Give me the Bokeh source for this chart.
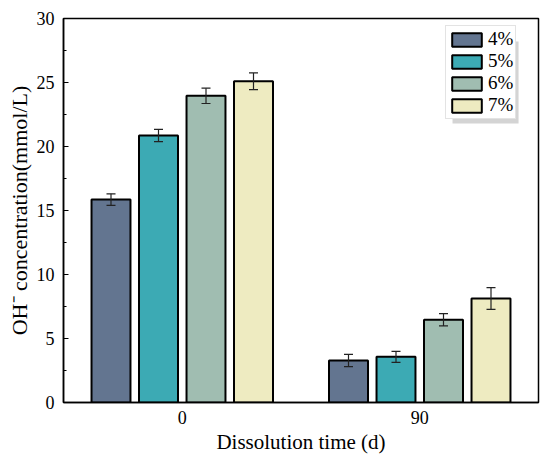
from bokeh.plotting import figure
from bokeh.models import (FactorRange, ColumnDataSource, Whisker, TeeHead, Legend,
                          LegendItem, SingleIntervalTicker, BoxAnnotation, Range1d)
from bokeh.transform import dodge
from bokeh.embed import file_html
from bokeh.resources import INLINE

times = ["0", "90"]
series = ["4%", "5%", "6%", "7%"]
colors = ["#637590", "#3caab4", "#a0bdb1", "#eeebc1"]
vals_4 = [15.85, 3.28]
vals_5 = [20.86, 3.57]
vals_6 = [23.96, 6.46]
vals_7 = [25.10, 8.12]
err_4 = [0.45, 0.48]
err_5 = [0.48, 0.43]
err_6 = [0.60, 0.48]
err_7 = [0.65, 0.85]

values = [vals_4, vals_5, vals_6, vals_7]
errors = [err_4, err_5, err_6, err_7]
offsets = [-0.3, -0.1, 0.1, 0.3]

FONT = "Liberation Serif"

p = figure(x_range=FactorRange(*times, range_padding=0), y_range=Range1d(0, 30),
           width=550, height=464, output_backend="svg", toolbar_location=None,
           min_border_left=63, min_border_right=12, min_border_top=18, min_border_bottom=62)

p.xgrid.visible = False
p.ygrid.visible = False
p.outline_line_color = "black"
p.outline_line_width = 1.5
p.background_fill_color = "white"
p.border_fill_color = "white"

# legend shadow
shadow = BoxAnnotation(left=1.638, right=1.916, top=28.20, bottom=21.80,
                       fill_color="#d4d4d4", fill_alpha=1.0, line_color=None)
p.add_layout(shadow)

items = []
for s, c, v, e, off in zip(series, colors, values, errors, offsets):
    src = ColumnDataSource(dict(time=times, top=v,
                                upper=[a + b for a, b in zip(v, e)],
                                lower=[a - b for a, b in zip(v, e)]))
    r = p.vbar(x=dodge("time", off, range=p.x_range), top="top", width=0.164,
               source=src, fill_color=c, line_color="black", line_width=2)
    w = Whisker(base=dodge("time", off, range=p.x_range), upper="upper", lower="lower",
                source=src, line_color="#222222", line_width=1.2, level="overlay",
                upper_head=TeeHead(size=9, line_color="#222222", line_width=1.2),
                lower_head=TeeHead(size=9, line_color="#222222", line_width=1.2))
    p.add_layout(w)
    items.append(LegendItem(label=s, renderers=[r]))

legend = Legend(items=items, location=(382, 283), label_text_font=FONT,
                label_text_font_size="19px", label_text_color="black",
                label_text_line_height=0.9,
                glyph_width=37, glyph_height=17,
                label_height=17, spacing=0, padding=2, margin=0, label_standoff=3,
                border_line_color="#c8c8c8", border_line_width=1,
                background_fill_color="white", background_fill_alpha=1.0)
p.add_layout(legend)

p.yaxis.ticker = SingleIntervalTicker(interval=5, num_minor_ticks=2)
for ax in (p.xaxis[0], p.yaxis[0]):
    ax.axis_line_color = "black"
    ax.axis_line_width = 1.5
    ax.major_label_text_font = FONT
    ax.major_label_text_font_size = "18px"
    ax.major_label_text_color = "black"
    ax.axis_label_text_font = FONT
    ax.axis_label_text_font_style = "normal"
    ax.axis_label_text_color = "black"

p.yaxis.axis_label = "OH\u207b concentration(mmol/L)"
p.yaxis.axis_label_text_font_size = "22px"
p.yaxis.major_tick_in = 5
p.yaxis.major_tick_out = 0
p.yaxis.minor_tick_in = 3
p.yaxis.minor_tick_out = 0
p.yaxis.major_tick_line_color = "black"
p.yaxis.minor_tick_line_color = "black"
p.yaxis.major_label_standoff = 9
p.yaxis.axis_label_standoff = 2

p.xaxis.axis_label = "Dissolution time (d)"
p.xaxis.axis_label_text_font_size = "21px"
p.xaxis.major_tick_in = 0
p.xaxis.major_tick_out = 0
p.xaxis.major_label_standoff = 8
p.xaxis.axis_label_standoff = 3

open("out.html", "w").write(file_html(p, INLINE))
